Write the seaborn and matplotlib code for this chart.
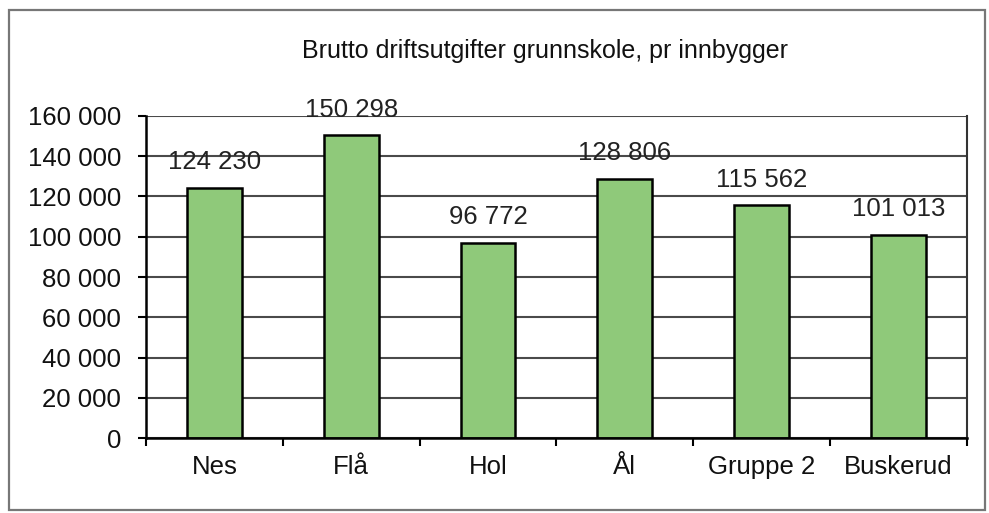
# Brutto driftsutgifter grunnskole, pr innbygger
import numpy as np
import pandas as pd
import matplotlib
matplotlib.use('Agg')
import matplotlib.pyplot as plt
from matplotlib.patches import Rectangle
from matplotlib.ticker import FuncFormatter, FixedLocator
import seaborn as sns

# data
kommuner = ['Nes', 'Flå', 'Hol', 'Ål', 'Gruppe 2', 'Buskerud']
utgifter = [124230, 150298, 96772, 128806, 115562, 101013]
y_ticks = [0, 20000, 40000, 60000, 80000, 100000, 120000, 140000, 160000]

df = pd.DataFrame({'kommune': kommuner, 'utgift': utgifter})

sns.set_style('white')
plt.rcParams['font.family'] = ['Liberation Sans', 'DejaVu Sans']

fig = plt.figure(figsize=(9.89, 5.13), dpi=100)
ax = fig.add_axes([0.1476, 0.146, 0.830, 0.628])

# outer frame like the original chart area
fig.patches.append(Rectangle((0.009, 0.006), 0.987, 0.974, transform=fig.transFigure,
                             fill=False, edgecolor='#777777', linewidth=1.6))

sns.barplot(data=df, x='kommune', y='utgift', color='#8fc97a', width=0.4,
            edgecolor='black', linewidth=1.8, saturation=1, ax=ax)

ax.set_ylim(0, 160000)
ax.set_xlim(-0.5, len(kommuner) - 0.5)
ax.yaxis.set_major_locator(FixedLocator(y_ticks))
ax.yaxis.set_major_formatter(FuncFormatter(lambda v, p: f'{v:,.0f}'.replace(',', ' ')))
ax.grid(axis='y', color='#4a4a4a', linewidth=1.5)
ax.set_axisbelow(True)

# value labels
lab = [f'{v:,}'.replace(',', ' ') for v in utgifter]
ax.bar_label(ax.containers[0], labels=lab, padding=10, fontsize=18.5, color='#222222')

# tick marks between categories
ax.set_xticks(np.arange(-0.5, len(kommuner), 1), minor=True)
ax.tick_params(axis='x', which='major', length=0, labelsize=18.5, pad=12, labelcolor='#111111')
ax.tick_params(axis='x', which='minor', length=6, width=1.5, color='black', direction='out', bottom=True)
ax.tick_params(axis='y', which='major', length=6, width=1.5, color='black', direction='out',
               left=True, labelsize=18.5, pad=12, labelcolor='#111111')

ax.spines['top'].set_visible(False)
ax.spines['right'].set_color('#333333')
ax.spines['right'].set_linewidth(1.5)
ax.spines['left'].set_color('black')
ax.spines['bottom'].set_color('black')
ax.spines['left'].set_linewidth(1.8)
ax.spines['bottom'].set_linewidth(1.8)

ax.set_xlabel('')
ax.set_ylabel('')
fig.text(0.551, 0.9, 'Brutto driftsutgifter grunnskole, pr innbygger', ha='center', va='center',
         fontsize=18, color='#111111')

fig.savefig('out.png', dpi=100)
plt.close()
